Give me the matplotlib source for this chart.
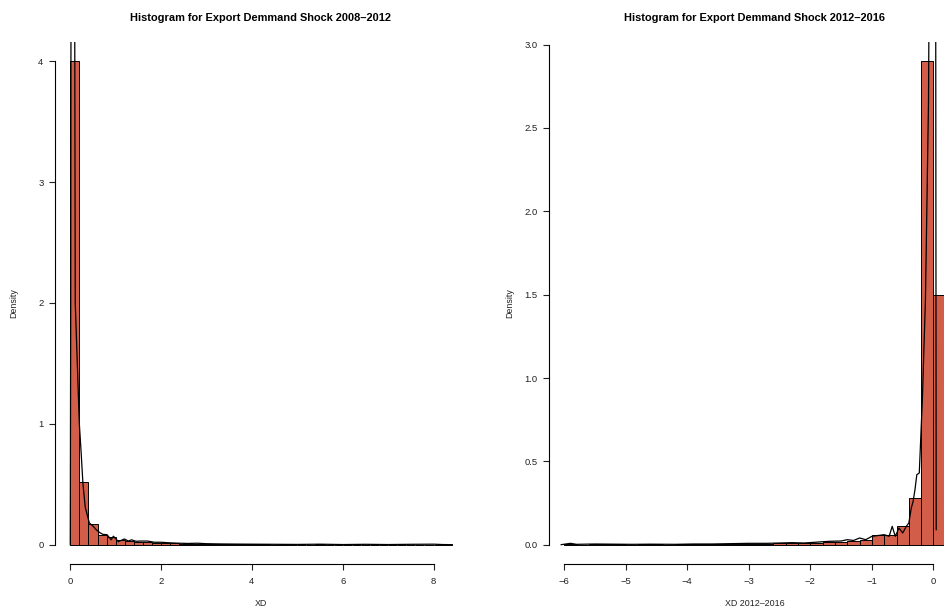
import numpy as np
import matplotlib
matplotlib.use('Agg')
import matplotlib.pyplot as plt

plt.rcParams['font.family'] = ['Liberation Sans', 'DejaVu Sans']

# histogram heights (density), bins of width 0.2
left_breaks_start = 0.0
left_heights = [4.0, 0.516, 0.171, 0.083, 0.064, 0.036, 0.028, 0.02, 0.018, 0.015,
                0.012, 0.01, 0.008, 0.007, 0.006, 0.005, 0.004, 0.004, 0.003, 0.003,
                0.002, 0.002, 0.001, 0.002, 0.001, 0.001, 0.0, 0.002, 0.001, 0.0,
                0.001, 0.001, 0.0, 0.001, 0.0, 0.001, 0.0, 0.001, 0.001, 0.0,
                0.001, 0.002]
right_breaks_start = -6.0
right_heights = [0.005, 0.0, 0.003, 0.002, 0.003, 0.0, 0.002, 0.002, 0.0, 0.003,
                 0.002, 0.002, 0.004, 0.004, 0.006, 0.006, 0.007, 0.008, 0.009, 0.01,
                 0.012, 0.015, 0.018, 0.024, 0.03, 0.056, 0.06, 0.114, 0.28, 2.9, 1.5]
binw = 0.2

# kernel density curves
left_dx = [0.0, 0.01, 0.02, 0.09, 0.11, 0.2, 0.235, 0.28, 0.33, 0.42, 0.51, 0.58,
           0.65, 0.72, 0.81, 0.9, 0.95, 1.06, 1.19, 1.28, 1.35, 1.45, 1.55, 1.7,
           1.85, 2.0, 2.2, 2.4, 2.6, 2.8, 3.0, 3.3, 3.6, 4.0, 4.5, 5.0, 5.5, 6.0,
           6.5, 7.0, 7.5, 8.0, 8.2, 8.4]
left_dy = [0.0, 2.0, 6.0, 6.0, 2.0, 1.0, 0.79, 0.5, 0.31, 0.18, 0.15, 0.12,
           0.1, 0.085, 0.083, 0.04, 0.07, 0.025, 0.047, 0.03, 0.04, 0.028, 0.03, 0.03,
           0.02, 0.02, 0.015, 0.012, 0.01, 0.012, 0.008, 0.006, 0.005, 0.004, 0.003, 0.002,
           0.004, 0.001, 0.003, 0.001, 0.003, 0.004, 0.001, 0.0]
right_dx = [-6.05, -5.9, -5.8, -5.5, -5.2, -4.9, -4.6, -4.2, -3.9, -3.6, -3.3, -3.0,
            -2.7, -2.5, -2.3, -2.1, -1.9, -1.7, -1.5, -1.4, -1.3, -1.2, -1.1, -1.0,
            -0.9, -0.8, -0.72, -0.67, -0.62, -0.56, -0.5, -0.44, -0.4, -0.36, -0.33,
            -0.3, -0.27, -0.23, -0.18, -0.13, -0.08, -0.06, 0.035, 0.045]
right_dy = [0.0, 0.008, 0.002, 0.004, 0.003, 0.002, 0.003, 0.002, 0.004, 0.004, 0.006, 0.008,
            0.008, 0.01, 0.012, 0.01, 0.015, 0.02, 0.022, 0.03, 0.025, 0.04, 0.03, 0.05,
            0.055, 0.06, 0.05, 0.11, 0.05, 0.1, 0.07, 0.11, 0.13, 0.22, 0.26,
            0.33, 0.42, 0.43, 0.87, 1.47, 2.66, 4.0, 4.0, 0.09]

W, H = 944, 607
fig = plt.figure(figsize=(W / 100, H / 100), dpi=100)
barcol = '#D25D48'


def panel(px_left, px_right, xlim, ylim, heights, start, dx, dy,
          xticks, yticks, ylabels, title, xlabel, ylab_px):
    top, bottom = 42, 564
    ax = fig.add_axes([px_left / W, 1 - bottom / H,
                       (px_right - px_left) / W, (bottom - top) / H])
    edges = start + binw * np.arange(len(heights))
    ax.bar(edges, heights, width=binw, align='edge', color=barcol,
           edgecolor='black', linewidth=0.7)
    ax.plot(dx, dy, color='black', linewidth=0.9)
    ax.set_xlim(*xlim)
    ax.set_ylim(*ylim)
    for s in ['top', 'right']:
        ax.spines[s].set_visible(False)
    ax.spines['left'].set_bounds(yticks[0], yticks[-1])
    ax.spines['bottom'].set_bounds(xticks[0], xticks[-1])
    ax.spines['left'].set_linewidth(0.8)
    ax.spines['bottom'].set_linewidth(0.8)
    ax.set_xticks(xticks)
    ax.set_xticklabels([str(t).replace('-', '\u2212') for t in xticks])
    ax.set_yticks(yticks)
    ax.set_yticklabels(ylabels)
    ax.tick_params(axis='x', length=4.3, width=0.8, pad=5, labelsize=6.8, colors='#222222')
    ax.tick_params(axis='y', length=4.3, width=0.8, pad=4, labelsize=6.8, colors='#222222')
    ax.set_title(title, fontsize=7.9, fontweight='bold', pad=15)
    ax.set_xlabel(xlabel, fontsize=6.4, color='#222222')
    ax.set_ylabel('Density', fontsize=6.4, color='#222222')
    w = px_right - px_left
    ax.yaxis.set_label_coords((ylab_px - px_left) / w, 0.5)
    ax.xaxis.set_label_coords(0.5, (bottom - 603) / (bottom - top))
    ax.xaxis.label.set_va('center')
    ax.yaxis.label.set_va('center')
    return ax


panel(55, 467, (-0.336, 8.736), (-0.16, 4.16), left_heights, left_breaks_start,
      left_dx, left_dy, [0, 2, 4, 6, 8], [0, 1, 2, 3, 4],
      ['0', '1', '2', '3', '4'],
      'Histogram for Export Demmand Shock 2008\u20132012', 'XD', 14)

panel(549, 961, (-6.248, 0.448), (-0.116, 3.016), right_heights, right_breaks_start,
      right_dx, right_dy, [-6, -5, -4, -3, -2, -1, 0],
      [0.0, 0.5, 1.0, 1.5, 2.0, 2.5, 3.0],
      ['0.0', '0.5', '1.0', '1.5', '2.0', '2.5', '3.0'],
      'Histogram for Export Demmand Shock 2012\u20132016', 'XD 2012\u20132016', 510)

fig.savefig('out.png', dpi=100)
